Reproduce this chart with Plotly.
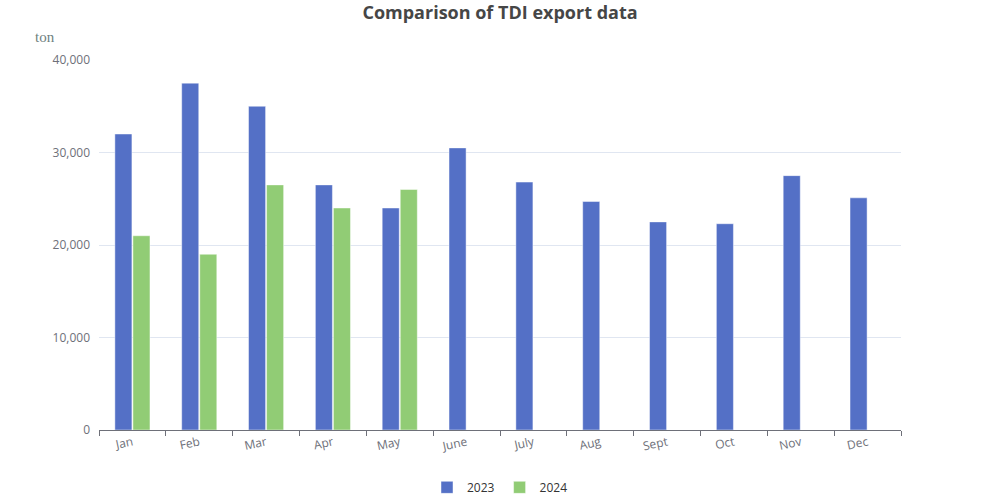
import plotly.graph_objects as go

months = ["Jan", "Feb", "Mar", "Apr", "May", "June", "July", "Aug", "Sept", "Oct", "Nov", "Dec"]
exports_2023 = [32000, 37500, 35000, 26500, 24000, 30500, 26800, 24700, 22500, 22300, 27500, 25100]
exports_2024 = [21000, 19000, 26500, 24000, 26000, None, None, None, None, None, None, None]

fig = go.Figure()
fig.add_trace(go.Bar(name="2023", x=months, y=exports_2023,
                     marker=dict(color="#5470c6", line=dict(color="rgba(255,255,255,0.45)", width=1))))
fig.add_trace(go.Bar(name="2024", x=months, y=exports_2024,
                     marker=dict(color="#91cc75", line=dict(color="rgba(255,255,255,0.45)", width=1))))

font_family = "Open Sans, Noto Sans, sans-serif"
fig.update_layout(
    width=1000, height=500,
    margin=dict(l=99, r=99, t=60, b=70, autoexpand=False),
    paper_bgcolor="white", plot_bgcolor="white",
    barmode="group", bargap=0.46, bargroupgap=0.055,
    title=dict(text="<b>Comparison of TDI export data</b>", x=0.5, xanchor="center",
               y=0.974, yanchor="middle",
               font=dict(family=font_family, size=18, color="#464646")),
    font=dict(family=font_family, size=12, color="#6e7079"),
    showlegend=True,
    legend=dict(orientation="h", x=0.5, xanchor="center", y=-0.155, yanchor="middle",
                font=dict(size=12, color="#333333"), itemwidth=30),
    hovermode=False,
)
fig.update_xaxes(
    type="category", showgrid=False, showline=True, linecolor="#6e7079", linewidth=1,
    ticks="outside", tickson="boundaries", ticklen=5, tickcolor="#6e7079",
    tickangle=-12, tickfont=dict(size=12, color="#6e7079"), automargin=False,
)
fig.update_yaxes(
    range=[0, 40000], tickvals=[0, 10000, 20000, 30000, 40000],
    tickformat=",", showgrid=True, gridcolor="#e0e6f1", gridwidth=1,
    zeroline=False, showline=False, ticks="", ticklabelstandoff=8,
    tickfont=dict(size=12, color="#6e7079"), automargin=False,
)
fig.add_annotation(text="ton", xref="paper", yref="paper", x=-0.067, y=1.062,
                   xanchor="center", yanchor="middle", showarrow=False,
                   font=dict(family="Liberation Serif, DejaVu Serif, serif", size=15, color="#6e7f80"))

fig.write_html("out.html", config={"displayModeBar": False},
               post_script="document.body.style.margin='0';document.body.style.overflow='hidden';")
